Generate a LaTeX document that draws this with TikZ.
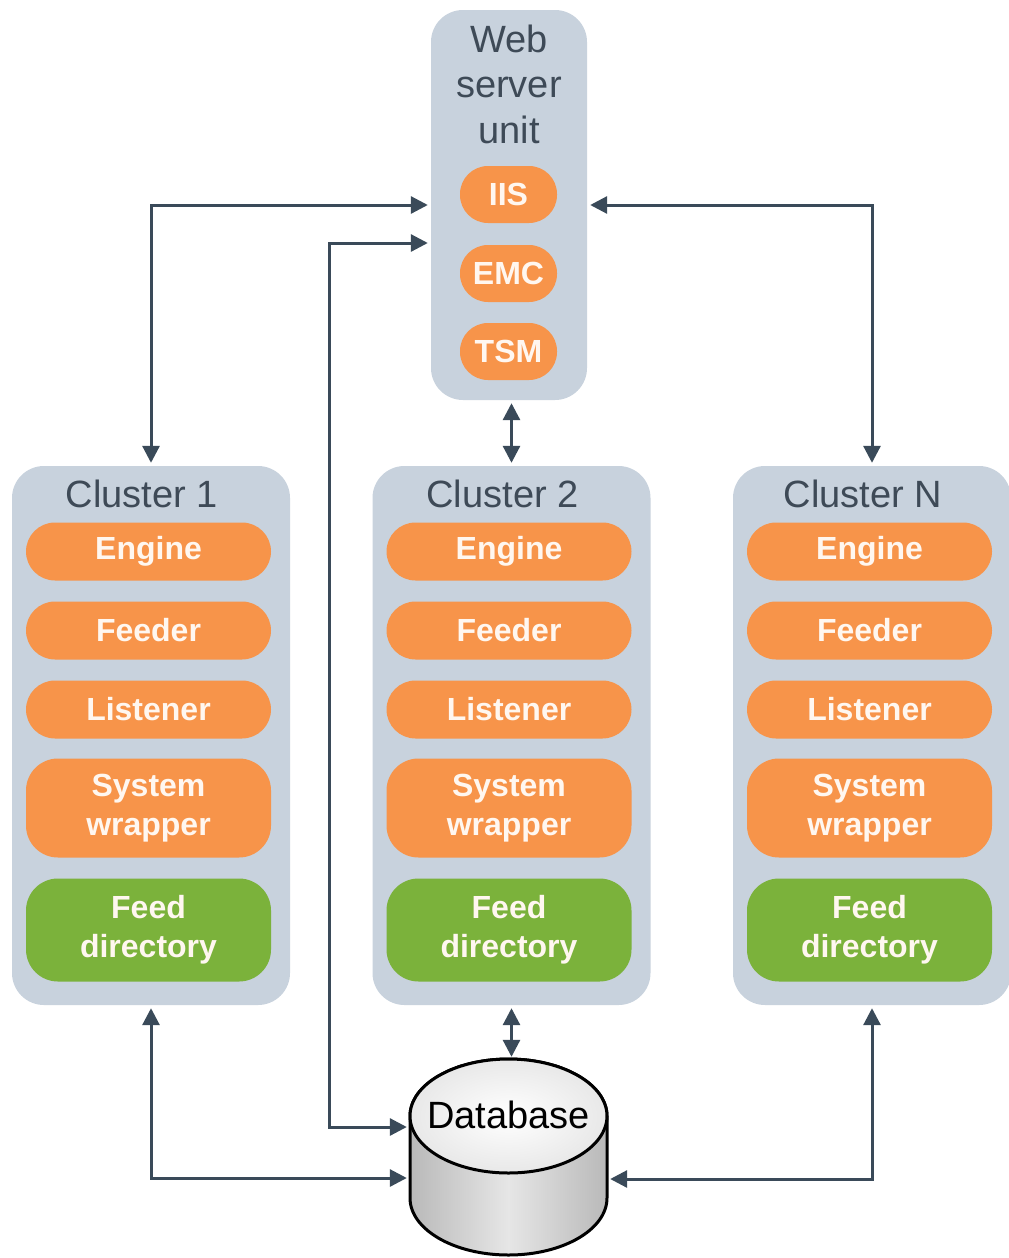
\documentclass[tikz,border=0pt]{standalone}
\usepackage{fontspec}
\setmainfont{Liberation Sans}
\usetikzlibrary{arrows.meta}
\definecolor{panelgray}{HTML}{C8D2DD}
\definecolor{orng}{HTML}{F7944A}
\definecolor{grn}{HTML}{7BB23B}
\definecolor{arrowc}{HTML}{3A4A59}
\definecolor{titlec}{HTML}{3E4A57}
\definecolor{pilltext}{HTML}{FFF7F0}
\definecolor{cylside}{HTML}{B9B9B9}
\definecolor{cylmid}{HTML}{E6E6E6}
\begin{document}
\begin{tikzpicture}[x=1pt,y=-1pt,
  panel/.style={fill=panelgray, rounded corners=32pt, minimum width=278pt, minimum height=539pt, inner sep=0pt},
  pill/.style={fill=orng, text=pilltext, font=\bfseries\fontsize{32}{39}\selectfont, rounded corners=29pt,
               minimum width=245pt, minimum height=58pt, inner sep=0pt, align=center},
  bigpill/.style={pill, rounded corners=32pt},
  greenpill/.style={bigpill, fill=grn},
  titletext/.style={text=titlec, font=\fontsize{38}{45}\selectfont, inner sep=0pt, anchor=base},
  conn/.style={draw=arrowc, line width=3pt,
               {Triangle[length=17pt,width=17pt]}-{Triangle[length=17pt,width=17pt]},
               shorten >=3pt, shorten <=3pt}
]
\useasboundingbox (0,0) rectangle (1009,1258);
\fill[white] (0,0) rectangle (1009,1258);

% Web server unit
\node[panel, minimum width=156pt, minimum height=390pt] (web) at (509,205) {};
\node[titletext] (wt1) at (509,52) {Web};
\node[titletext] (wt2) at (509,97) {server};
\node[titletext] (wt3) at (509,143) {unit};
\node[pill, minimum width=97pt, minimum height=57pt, rounded corners=28pt] (iis) at (508.5,194.5) {IIS};
\node[pill, minimum width=97pt, minimum height=57pt, rounded corners=28pt] (emc) at (508.5,273.5) {EMC};
\node[pill, minimum width=97pt, minimum height=57pt, rounded corners=28pt] (tsm) at (508.5,351.5) {TSM};

% Clusters
\foreach \cx/\nm/\lbl in {151/c1/1, 511.5/c2/2, 872/cN/N}{
  \node[panel] (\nm) at (\cx,735.5) {};
  \node[titletext] (\nm-title) at (\cx-9,507) {Cluster \lbl};
  \node[pill] (\nm-eng) at (\cx-2.5,551.5) {Engine};
  \node[pill] (\nm-feed) at (\cx-2.5,630.5) {Feeder};
  \node[pill] (\nm-lis) at (\cx-2.5,709.5) {Listener};
  \node[bigpill, minimum height=99pt] (\nm-sys) at (\cx-2.5,808) {System\\wrapper};
  \node[greenpill, minimum height=103pt] (\nm-fd) at (\cx-2.5,930) {Feed\\directory};
}

% Database
\node[minimum width=197pt, minimum height=195pt, inner sep=0pt] (db) at (508.5,1157.5) {};
\path[left color=cylside, right color=cylside, middle color=cylmid, draw=black, line width=3pt]
  (410,1116) -- (410,1198) arc[start angle=180, end angle=360, x radius=98.5pt, y radius=57pt]
  -- (607,1116) arc[start angle=0, end angle=180, x radius=98.5pt, y radius=57pt] -- cycle;
\path[inner color=white, outer color=gray!18, draw=black, line width=3pt]
  (508.5,1116) ellipse [x radius=98.5pt, y radius=57pt];
\node[font=\fontsize{38}{45}\selectfont, inner sep=0pt] (dbt) at (508.5,1115) {Database};

% Connectors
\draw[conn] (c1.north) |- (web.west);
\draw[conn] (cN.north) |- (web.east);
\draw[conn] (c2.north) -- (c2.north |- web.south);
\draw[conn] (c2.south) -- (c2.south |- db.north);
\draw[conn] ([yshift=-38pt]web.west) -- ++(-101,0) |- ([yshift=30.5pt]db.west);
\draw[conn] (c1.south) |- ([yshift=-20.5pt]db.west);
\draw[conn] (cN.south) |- ([yshift=-21.5pt]db.east);
\end{tikzpicture}
\end{document}
